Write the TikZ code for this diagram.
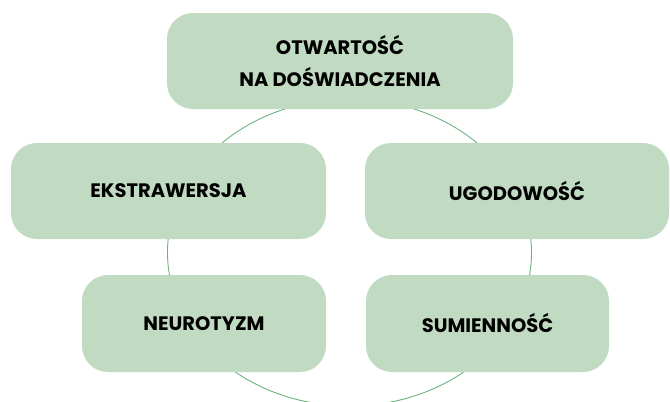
\documentclass[tikz,border=0pt]{standalone}
\usepackage{fontspec}
\setmainfont{Poppins}
\definecolor{boxfill}{RGB}{193,218,194}
\definecolor{ringline}{RGB}{108,178,128}
\begin{document}
\begin{tikzpicture}[x=1pt,y=-1pt,
  trait/.style={fill=boxfill, rounded corners=26pt, inner sep=0pt, align=center,
    font=\bfseries\fontsize{19.5}{32}\selectfont, text=black}]
\useasboundingbox (0,0) rectangle (670,402);
\begin{scope}
\clip (0,0) rectangle (670,402);
\draw[ringline, line width=0.9pt] (349.5,252.5) ellipse [x radius=182, y radius=153.5];
\end{scope}
\node[trait, minimum width=346pt, minimum height=96pt] (open) at (340,61) {OTWARTOŚĆ\\NA DOŚWIADCZENIA};
\node[trait, minimum width=315pt, minimum height=96pt] (extra) at (168.5,191) {EKSTRAWERSJA};
\node[trait, minimum width=304pt, minimum height=96pt] (agree) at (517,191) {UGODOWOŚĆ};
\node[trait, minimum width=244pt, minimum height=97pt] (neuro) at (204,323.5) {NEUROTYZM};
\node[trait, minimum width=243pt, minimum height=97pt] (consc) at (487.5,323.5) {SUMIENNOŚĆ};
\end{tikzpicture}
\end{document}
